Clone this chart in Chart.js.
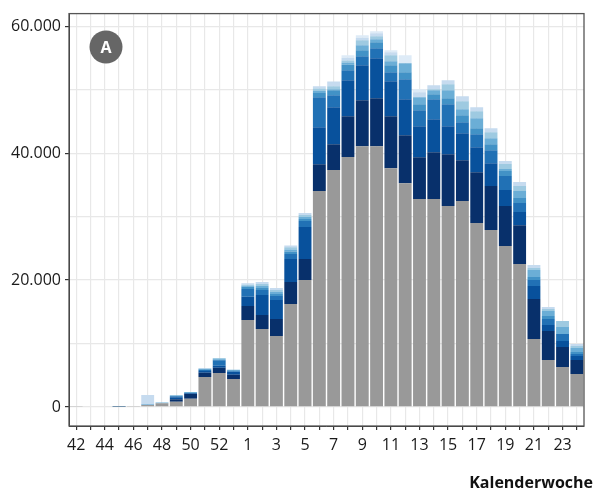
<!DOCTYPE html>
<html>
<head>
<meta charset="utf-8">
<script src="https://cdn.jsdelivr.net/npm/chart.js@4"></script>
<style>
  html, body { margin: 0; padding: 0; background: #fff; }
  #wrap { width: 595px; height: 491px; position: relative; }
</style>
</head>
<body>
<div id="wrap"><canvas id="chart"></canvas></div>
<script>
// Kalenderwochen 42/2020 bis 24/2021
const weeks = ["42","43","44","45","46","47","48","49","50","51","52","53",
  "1","2","3","4","5","6","7","8","9","10","11","12","13","14","15","16","17","18","19","20","21","22","23","24"];

// stacked layers, bottom (grey) to top (lightest blue)
const grau  = [60,120,120,50,150,300,600,840,1310,4725,5355,4410,
  13700,12285,11180,16220,20000,34020,37330,39380,41110,41110,37640,35280,32760,32760,31660,32445,28980,27880,25360,22520,10710,7400,6300,5200];
const blau1 = [0,0,0,0,0,0,0,365,735,680,840,680,
  2205,2205,2680,3465,3310,4250,4095,6460,7245,7560,8190,7560,6615,7400,8190,6460,8030,6930,6300,6140,6300,4570,3150,2205];
const blau2 = [0,0,0,0,0,0,0,315,100,260,315,420,
  1470,3150,2990,3620,5040,5830,5830,5670,5510,6300,5510,5670,4880,5200,4410,4250,3940,3620,2520,2050,2050,945,945,630];
const blau3 = [0,0,0,120,0,0,0,160,50,160,840,105,
  1210,790,630,790,945,4725,1890,1575,1420,1575,1420,3150,2520,3150,3465,1730,2050,2050,2205,1420,945,945,1100,315];
const blau4 = [0,0,0,0,0,80,0,80,0,105,105,160,
  365,315,315,420,315,680,790,840,945,945,1100,1100,945,790,945,1100,945,945,790,790,470,470,0,315];
const blau5 = [0,0,0,0,0,0,100,80,160,105,160,105,
  160,315,315,315,315,315,160,365,790,470,630,1420,1100,630,1260,945,1575,945,315,1100,1100,790,1100,630];
const blau6 = [0,0,0,0,0,0,0,0,0,0,105,0,
  160,315,315,360,315,370,470,315,790,470,945,0,0,150,945,1260,1100,945,790,790,315,315,945,315];
const blau7 = [0,0,0,0,0,1500,0,0,0,105,0,0,
  210,315,315,270,315,360,740,420,365,470,470,0,790,630,630,790,630,630,470,630,470,315,0,315];
const blau8 = [0,0,0,0,0,0,0,0,0,0,0,0,
  0,0,0,0,0,0,0,420,420,315,315,1260,470,0,0,0,0,0,0,0,0,0,0,0];

const yTicksAll = [0, 10000, 20000, 30000, 40000, 50000, 60000];
const yTicksMajor = [0, 20000, 40000, 60000];

const layers = [grau, blau1, blau2, blau3, blau4, blau5, blau6, blau7, blau8];
const colors = ["#999999", "#08306b", "#08519c", "#2171b5", "#4292c6", "#6baed6", "#9ecae1", "#c6dbef", "#deebf7"];

const fmt = (v) => String(v).replace(/\B(?=(\d{3})+(?!\d))/g, ".");

Chart.defaults.font.family = "'Open Sans', sans-serif";
Chart.defaults.color = "#1a1a1a";

// panel frame, "A" badge and axis title
const extras = {
  id: "extras",
  afterDraw(chart) {
    const { ctx, chartArea: a } = chart;
    ctx.save();
    ctx.strokeStyle = "#555";
    ctx.lineWidth = 1.3;
    ctx.strokeRect(a.left, a.top, a.right - a.left, a.bottom - a.top);

    ctx.fillStyle = "#666";
    ctx.beginPath();
    ctx.arc(106, 47, 16.5, 0, Math.PI * 2);
    ctx.fill();
    ctx.fillStyle = "#fff";
    ctx.font = "bold 16px 'Open Sans', sans-serif";
    ctx.textAlign = "center";
    ctx.textBaseline = "middle";
    ctx.fillText("A", 106, 48);

    ctx.fillStyle = "#111";
    ctx.font = "bold 16px 'Open Sans', sans-serif";
    ctx.textAlign = "right";
    ctx.textBaseline = "alphabetic";
    ctx.fillText("Kalenderwoche", 593, 488);
    ctx.restore();
  }
};

new Chart(document.getElementById("chart"), {
  type: "bar",
  data: {
    labels: weeks,
    datasets: layers.map((d, i) => ({
      data: d,
      backgroundColor: colors[i],
      borderWidth: 0,
      barPercentage: 0.9,
      categoryPercentage: 1.0
    }))
  },
  options: {
    responsive: true,
    maintainAspectRatio: false,
    animation: false,
    layout: { padding: { left: 0, top: 13, right: 11, bottom: 0 } },
    plugins: { legend: { display: false }, tooltip: { enabled: false } },
    scales: {
      x: {
        stacked: true,
        afterFit: (s) => { s.height = 65; },
        grid: { offset: false, color: "#e8e8e8", lineWidth: 1.2, tickLength: 4, tickColor: "#333" },
        border: { display: true, color: "#333", width: 1 },
        ticks: {
          autoSkip: false,
          maxRotation: 0,
          padding: 6,
          font: { size: 16 },
          callback: function (v, i) { return i % 2 === 0 ? weeks[i] : ""; }
        }
      },
      y: {
        stacked: true,
        min: -3000,
        max: 62000,
        afterBuildTicks: (s) => { s.ticks = yTicksAll.map((v) => ({ value: v })); },
        afterFit: (s) => { s.width = 69; },
        grid: {
          color: "#e8e8e8",
          lineWidth: 1.2,
          tickLength: 4,
          tickColor: (c) => (c.tick && yTicksMajor.includes(c.tick.value) ? "#333" : "rgba(0,0,0,0)")
        },
        border: { display: true, color: "#333", width: 1 },
        ticks: {
          padding: 4,
          font: { size: 16 },
          callback: (v) => (yTicksMajor.includes(v) ? fmt(v) : "")
        }
      }
    }
  },
  plugins: [extras]
});
</script>
</body>
</html>
